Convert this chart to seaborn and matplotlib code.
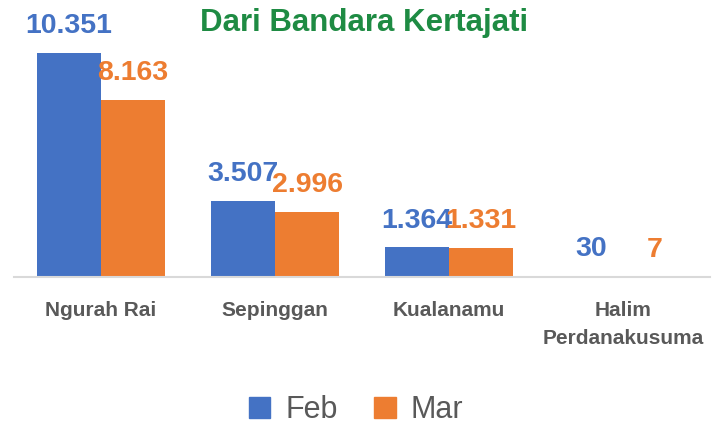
import matplotlib.pyplot as plt
import pandas as pd
import seaborn as sns

bandara = ["Ngurah Rai", "Sepinggan", "Kualanamu", "Halim\nPerdanakusuma"]
feb = [10351, 3507, 1364, 30]
mar = [8163, 2996, 1331, 7]
bulan = ["Feb", "Mar"]
warna = ["#4472C4", "#ED7D31"]

sns.set_theme(style="white")
plt.rcParams["font.family"] = ["Liberation Sans", "DejaVu Sans"]

df = pd.DataFrame({
    "bandara": bandara * 2,
    "jumlah": feb + mar,
    "bulan": [bulan[0]] * len(feb) + [bulan[1]] * len(mar),
})

fig = plt.figure(figsize=(7.12, 4.26), dpi=100)
ax = fig.add_axes([14 / 712, 149 / 426, 696 / 712, 267 / 426])

sns.barplot(data=df, x="bandara", y="jumlah", hue="bulan", palette=warna,
            width=0.736, saturation=1, linewidth=0, ax=ax, legend=False)

ax.set_xlim(-0.5, 3.5)
ax.set_ylim(0, 12340)
ax.set_xlabel("")
ax.set_ylabel("")
ax.set_yticks([])
for s in ["top", "left", "right"]:
    ax.spines[s].set_visible(False)
ax.spines["bottom"].set_color("#D9D9D9")
ax.spines["bottom"].set_linewidth(1.5)
ax.tick_params(axis="x", length=0, pad=17)
for lbl in ax.get_xticklabels():
    lbl.set_fontsize(15)
    lbl.set_fontweight("bold")
    lbl.set_color("#595959")
    lbl.set_linespacing(1.6)

for cont, c in zip(ax.containers, warna):
    labels = [f"{int(v):,}".replace(",", ".") for v in cont.datavalues]
    ax.bar_label(cont, labels=labels, padding=10, color=c,
                 fontsize=20.5, fontweight="bold")

fig.text(0.512, 0.946, "Dari Bandara Kertajati", ha="center", va="center",
         fontsize=22.5, fontweight="bold", color="#1E8B43")

handles = [plt.Rectangle((0, 0), 1, 1, color=c) for c in warna]
fig.legend(handles, bulan, loc="center", bbox_to_anchor=(0.5, 0.037), ncol=2,
           frameon=False, fontsize=22, handlelength=0.7, handleheight=0.7,
           handletextpad=0.5, columnspacing=1.2, labelcolor="#595959")

fig.savefig("out.png", dpi=100)
